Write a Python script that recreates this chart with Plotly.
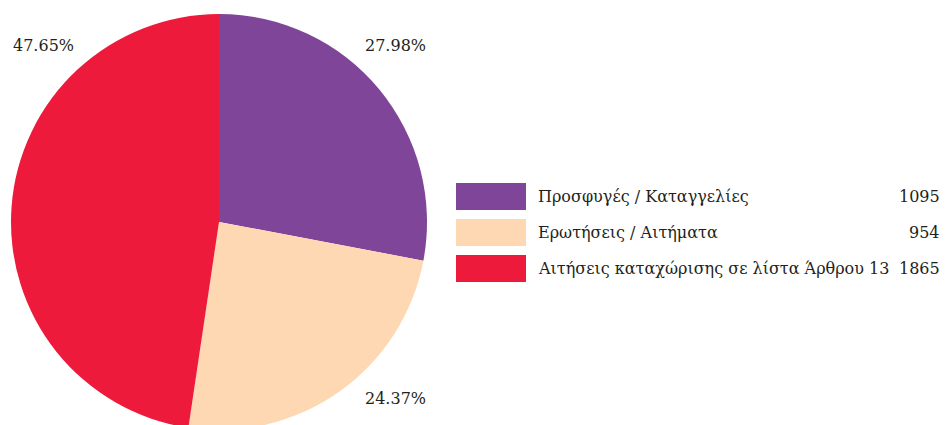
import plotly.graph_objects as go

categories = ["Προσφυγές / Καταγγελίες", "Ερωτήσεις / Αιτήματα", "Αιτήσεις καταχώρισης σε λίστα Άρθρου 13"]
values = [1095, 954, 1865]
colors = ["#7f4599", "#fdd8b3", "#ed1a3b"]

W, H = 947, 425
OFF = 8  # page body margin offset
FONT = "DejaVu Serif"
TXT = "#231f20"

total = sum(values)
pcts = [f"{v / total * 100:.2f}%" for v in values]


def px(x):
    return (x - OFF) / W


def py(y):
    return 1 - (y - OFF) / H


cx, cy, r = 219, 222, 208
fig = go.Figure(go.Pie(
    labels=categories, values=values, sort=False, direction="clockwise", rotation=0,
    marker=dict(colors=colors, line=dict(width=0)), textinfo="none", hoverinfo="label+value+percent",
    showlegend=False,
    domain=dict(x=[px(cx - r), px(cx + r)], y=[py(cy + r), py(cy - r)]),
))

# percentage labels placed near the pie
pct_pos = [(395, 46), (395, 398), (43, 46)]
for p, (x, y) in zip(pcts, pct_pos):
    fig.add_annotation(x=px(x), y=py(y), xref="paper", yref="paper", text=p, showarrow=False,
                       xanchor="center", yanchor="middle", font=dict(family=FONT, size=16, color=TXT))

# custom legend
box_x0, box_x1 = 456, 526
row_tops = [183, 219, 255]
for cat, val, col, top in zip(categories, values, colors, row_tops):
    fig.add_shape(type="rect", xref="paper", yref="paper", x0=px(box_x0), x1=px(box_x1),
                  y0=py(top + 27), y1=py(top), fillcolor=col, line=dict(width=0))
    yc = py(top + 13.5)
    fig.add_annotation(x=px(536), y=yc, xref="paper", yref="paper", text=cat, showarrow=False,
                       xanchor="left", yanchor="middle", font=dict(family=FONT, size=16, color=TXT))
    fig.add_annotation(x=px(942), y=yc, xref="paper", yref="paper", text=str(val), showarrow=False,
                       xanchor="right", yanchor="middle", font=dict(family=FONT, size=16, color=TXT))

fig.update_layout(width=W, height=H, margin=dict(l=0, r=0, t=0, b=0),
                  paper_bgcolor="white", plot_bgcolor="white")
fig.write_html("out.html")
